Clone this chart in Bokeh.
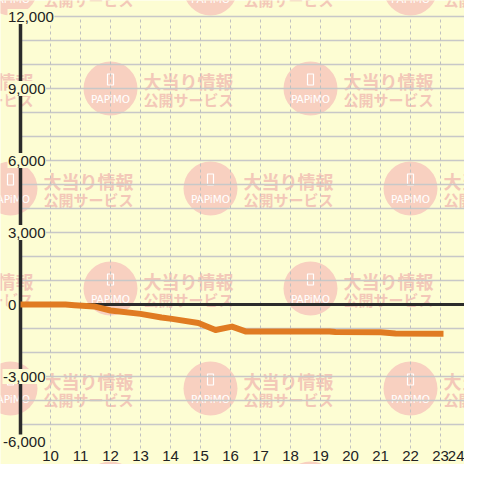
from bokeh.plotting import figure
from bokeh.models import Range1d
from bokeh.core.properties import value
from bokeh.embed import file_html
from bokeh.resources import INLINE

# ---- data ----
hours = [9.0, 10.5, 10.8, 11.45, 12.0, 13.0, 13.7, 14.05, 14.93, 15.5, 16.05, 16.5,
         17.0, 18.0, 19.3, 19.5, 21.0, 21.5, 23.1]
balance = [0, 0, -30, -80, -250, -390, -540, -600, -770, -1060, -920, -1120,
           -1125, -1125, -1125, -1150, -1160, -1210, -1220]
x_ticks = list(range(10, 25))
x_tick_labels = [str(h) for h in x_ticks]
y_ticks = [-6000, -3000, 0, 3000, 6000, 9000, 12000]
y_tick_labels = ["-6,000", "-3,000", "0", "3,000", "6,000", "9,000", "12,000"]
y_grid = list(range(-5000, 12001, 1000))
wm_line1 = "大当り情報"
wm_line2 = "公開サービス"
wm_logo = "PAPiMO"

BG = "#fdfdd3"
DARK = "#2b2b2b"
W = H = 464
FS = 15.0

# pixel <-> data helpers
PX_PER_HOUR = 30.0
PX_PER_UNIT = 24.0 / 1000.0

def to_x(px):
    return 9.0 + (px - 20.0) / PX_PER_HOUR

def to_y(py):
    return (304.0 - py) / PX_PER_UNIT

def text_w(s):
    w = 0.0
    for ch in s:
        w += 0.278 if ch == "," else (0.333 if ch == "-" else 0.556)
    return w * FS

p = figure(width=W, height=H, output_backend="svg", toolbar_location=None,
           x_axis_location=None, y_axis_location=None,
           x_range=Range1d(to_x(0), to_x(W)), y_range=Range1d(to_y(H), to_y(0)))
p.min_border_left = 0
p.min_border_right = 0
p.min_border_top = 0
p.min_border_bottom = 0
p.outline_line_color = None
p.background_fill_color = BG
p.border_fill_color = BG
p.xgrid.grid_line_color = None
p.ygrid.grid_line_color = None

# ---- watermark (decorative background tiles) ----
cx, cy, tx1, ty1, ty2 = [], [], [], [], []
for r in range(6):
    py = -12 + 100 * r
    base = 10 if r % 2 == 0 else 110
    for k in range(-1, 3):
        px = base + 200 * k
        if px + 125 < 0 or px - 28 > W or py - 28 > H or py + 28 < 0:
            continue
        cx.append(to_x(px)); cy.append(to_y(py))
        tx1.append(to_x(px + 33)); ty1.append(to_y(py - 8)); ty2.append(to_y(py + 11))
p.scatter(cx, cy, size=54, marker="circle", fill_color="#f8d0c0", line_color=None)
p.rect(cx, [v + 9 / PX_PER_UNIT for v in cy], width=6, height=11,
       width_units="screen", height_units="screen",
       fill_alpha=0, line_color="white", line_width=1.2)
p.text(cx, [v - 10 / PX_PER_UNIT for v in cy], text=[wm_logo] * len(cx),
       text_font=value("DejaVu Sans"), text_font_size="10.5px", text_color="white",
       text_align="center", text_baseline="middle")
p.text(tx1, ty1, text=[wm_line1] * len(cx), text_font=value("Noto Sans CJK JP"),
       text_font_style="bold", text_font_size="18px", text_color="#f3c8b8",
       text_align="left", text_baseline="middle")
p.text(tx1, ty2, text=[wm_line2] * len(cx), text_font=value("Noto Sans CJK JP"),
       text_font_style="bold", text_font_size="15px", text_color="#f3c8b8",
       text_align="left", text_baseline="middle")

# ---- grid ----
x_right = to_x(W + 10)
p.segment(x0=[9] * len(y_grid), x1=[x_right] * len(y_grid), y0=y_grid, y1=y_grid,
          line_color="#c8c8c8", line_width=1.3)
p.segment(x0=x_ticks, x1=x_ticks, y0=[-6000] * len(x_ticks), y1=[12000] * len(x_ticks),
          line_color="#c0c0c0", line_width=1, line_dash="3 3")

# zero line and vertical axis line
p.segment(x0=[9], x1=[x_right], y0=[0], y1=[0], line_color=DARK, line_width=3)
p.segment(x0=[9], x1=[9], y0=[-6000], y1=[12000], line_color=DARK, line_width=3.5)

# ---- series ----
p.line(hours, balance, line_color="#e07b22", line_width=6, line_join="round")

# ---- y tick labels (drawn over the axis line with a background box) ----
lab_left_px = [2.5 if v < 0 else 7.5 for v in y_ticks]
lab_w = [text_w(s) for s in y_tick_labels]
lab_yoff = [-6.5 if v == min(y_ticks) else 0 for v in y_ticks]
box_x = [to_x(l + w / 2) for l, w in zip(lab_left_px, lab_w)]
box_y = [v - off / PX_PER_UNIT for v, off in zip(y_ticks, lab_yoff)]
p.rect(box_x, box_y, width=[w + 1 for w in lab_w], height=15,
       width_units="screen", height_units="screen", fill_color=BG, line_color=None)
p.text([to_x(l) for l in lab_left_px], y_ticks, text=y_tick_labels, y_offset=lab_yoff,
       text_font=value("Liberation Sans"), text_font_size="15px", text_color="#222222",
       text_align="left", text_baseline="middle")

# ---- x tick labels ----
xl_px = [20 + (h - 9) * PX_PER_HOUR for h in x_ticks]
xl_off = [min(0.0, W - (px + text_w(s) / 2)) for px, s in zip(xl_px, x_tick_labels)]
p.text(x_ticks, [to_y(455)] * len(x_ticks), text=x_tick_labels, x_offset=xl_off,
       text_font=value("Liberation Sans"), text_font_size="15px", text_color="#222222",
       text_align="center", text_baseline="middle")

open("out.html", "w").write(file_html(p, INLINE))
